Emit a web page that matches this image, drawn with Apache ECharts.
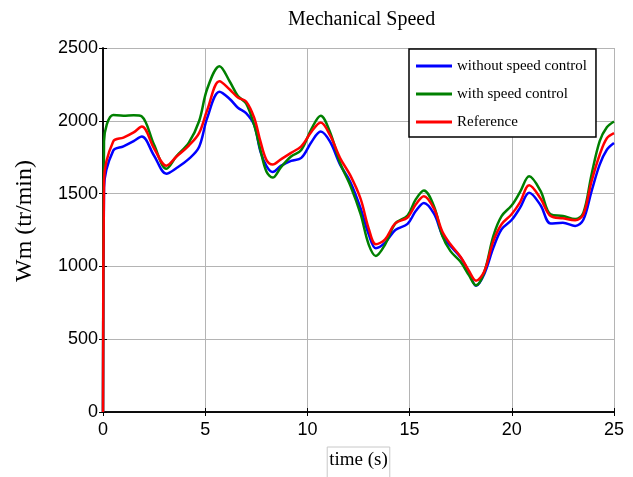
<!DOCTYPE html>
<html>
<head>
<meta charset="utf-8">
<script src="https://cdn.jsdelivr.net/npm/echarts@6/dist/echarts.min.js"></script>
<style>
  html, body { margin: 0; padding: 0; background: #fff; }
  #chart { width: 633px; height: 477px; }
</style>
</head>
<body>
<div id="chart"></div>
<script>
// time samples (s), shared by the three curves
const timeS = [0, 0.05, 0.5, 1, 1.5, 1.9, 2.5, 3.1, 3.6, 4.2, 4.7, 5.1, 5.7, 6.2, 6.6, 7.0, 7.4, 7.7, 8.0, 8.3,
  8.7, 9.2, 9.7, 10.2, 10.65, 11.1, 11.6, 12.1, 12.6, 13.0, 13.35, 13.8, 14.3, 14.9, 15.3, 15.7, 16.2, 16.6,
  17.0, 17.5, 17.9, 18.25, 18.65, 19.1, 19.5, 20.0, 20.4, 20.85, 21.4, 21.9, 22.5, 23.1, 23.5, 23.9, 24.3, 24.65, 25];

const withoutControl = [0, 1540, 1795, 1824, 1860, 1892, 1760, 1637, 1676, 1738, 1820, 2020, 2199, 2150, 2090, 2053, 1970, 1790, 1688, 1648,
  1690, 1725, 1745, 1855, 1926, 1858, 1699, 1580, 1400, 1220, 1125, 1163, 1250, 1292, 1380, 1436, 1360, 1215,
  1140, 1061, 960, 867, 947, 1129, 1255, 1320, 1402, 1505, 1422, 1295, 1300, 1278, 1320, 1516, 1699, 1801, 1848];

const withControl = [0, 1860, 2040, 2035, 2038, 2030, 1835, 1671, 1758, 1850, 1997, 2220, 2375, 2270, 2170, 2120, 1968, 1800, 1650, 1610,
  1680, 1755, 1800, 1945, 2035, 1925, 1710, 1555, 1360, 1150, 1072, 1150, 1295, 1350, 1460, 1521, 1410, 1210,
  1105, 1030, 940, 870, 960, 1210, 1345, 1420, 1510, 1619, 1520, 1357, 1346, 1325, 1368, 1630, 1860, 1955, 1995];

const reference = [0, 1590, 1858, 1885, 1920, 1960, 1810, 1692, 1755, 1830, 1915, 2075, 2272, 2215, 2160, 2133, 2020, 1860, 1730, 1700,
  1735, 1780, 1825, 1925, 1988, 1903, 1744, 1625, 1465, 1260, 1152, 1186, 1295, 1336, 1425, 1482, 1395, 1240,
  1152, 1065, 970, 902, 965, 1175, 1290, 1360, 1440, 1557, 1468, 1346, 1330, 1317, 1357, 1584, 1767, 1880, 1915];

const seriesNames = ['without speed control', 'with speed control', 'Reference'];
const seriesColors = ['#0000ff', '#008000', '#ff0000'];

const sans = "'Liberation Sans', Arial, sans-serif";
const serif = "'Liberation Serif', 'Times New Roman', serif";

const chart = echarts.init(document.getElementById('chart'));

function pairs(values) {
    return timeS.map((t, i) => [t, values[i]]);
}

function lineSeries(name, values, color) {
    return {
        name: name,
        type: 'line',
        data: pairs(values),
        showSymbol: false,
        smooth: 0.35,
        lineStyle: { color: color, width: 2.5 },
        itemStyle: { color: color },
        emphasis: { disabled: true }
    };
}

const boxAxis = {
    axisLine: { show: true, lineStyle: { color: '#000', width: 1.5 } },
    axisTick: { show: true, inside: true, length: 4, lineStyle: { color: '#000' } },
    axisLabel: { show: false },
    splitLine: { show: false }
};

const options = {
    animation: false,
    backgroundColor: '#fff',
    title: {
        text: 'Mechanical Speed',
        left: 283,
        top: 5,
        textStyle: { fontFamily: serif, fontSize: 20, fontWeight: 'normal', color: '#000' }
    },
    grid: {
        left: 103,
        right: 19,
        top: 48,
        bottom: 65,
        outerBoundsMode: 'none'
    },
    legend: {
        data: seriesNames,
        orient: 'vertical',
        left: 409,
        top: 49,
        icon: 'rect',
        itemWidth: 36,
        itemHeight: 3,
        itemGap: 8,
        padding: [7, 9, 5, 7],
        backgroundColor: '#fff',
        borderColor: '#000',
        borderWidth: 1.5,
        borderRadius: 0,
        textStyle: { fontFamily: serif, fontSize: 15, lineHeight: 20, color: '#000' }
    },
    xAxis: [
        {
            type: 'value',
            min: 0,
            max: 25,
            interval: 5,
            name: 'time (s)',
            nameLocation: 'middle',
            nameGap: 35,
            nameTextStyle: {
                fontFamily: serif, fontSize: 19, color: '#000',
                borderColor: '#c8c8c8', borderWidth: 1, padding: [4, 2, 8, 2]
            },
            axisLine: { show: true, lineStyle: { color: '#000', width: 1.5 } },
            axisTick: { show: true, inside: true, length: 4, lineStyle: { color: '#000' } },
            axisLabel: { fontFamily: sans, fontSize: 18, color: '#000', margin: 9 },
            splitLine: { show: true, lineStyle: { color: '#b4b4b4', width: 1 } }
        },
        Object.assign({ type: 'value', position: 'top', min: 0, max: 25, interval: 5 }, boxAxis)
    ],
    yAxis: [
        {
            type: 'value',
            min: 0,
            max: 2500,
            interval: 500,
            name: 'Wm (tr/min)',
            nameLocation: 'middle',
            nameGap: 66,
            nameTextStyle: { fontFamily: serif, fontSize: 24, color: '#000', padding: [0, 0, 0, 18] },
            axisLine: { show: true, lineStyle: { color: '#000', width: 1.5 } },
            axisTick: { show: true, inside: true, length: 4, lineStyle: { color: '#000' } },
            axisLabel: {
                fontFamily: sans, fontSize: 18, color: '#000', margin: 5,
                formatter: (v) => String(v)
            },
            splitLine: { show: true, lineStyle: { color: '#b4b4b4', width: 1 } }
        },
        Object.assign({ type: 'value', position: 'right', min: 0, max: 2500, interval: 500 }, boxAxis)
    ],
    series: [
        lineSeries(seriesNames[0], withoutControl, seriesColors[0]),
        lineSeries(seriesNames[1], withControl, seriesColors[1]),
        lineSeries(seriesNames[2], reference, seriesColors[2])
    ]
};

chart.setOption(options);
</script>
</body>
</html>
